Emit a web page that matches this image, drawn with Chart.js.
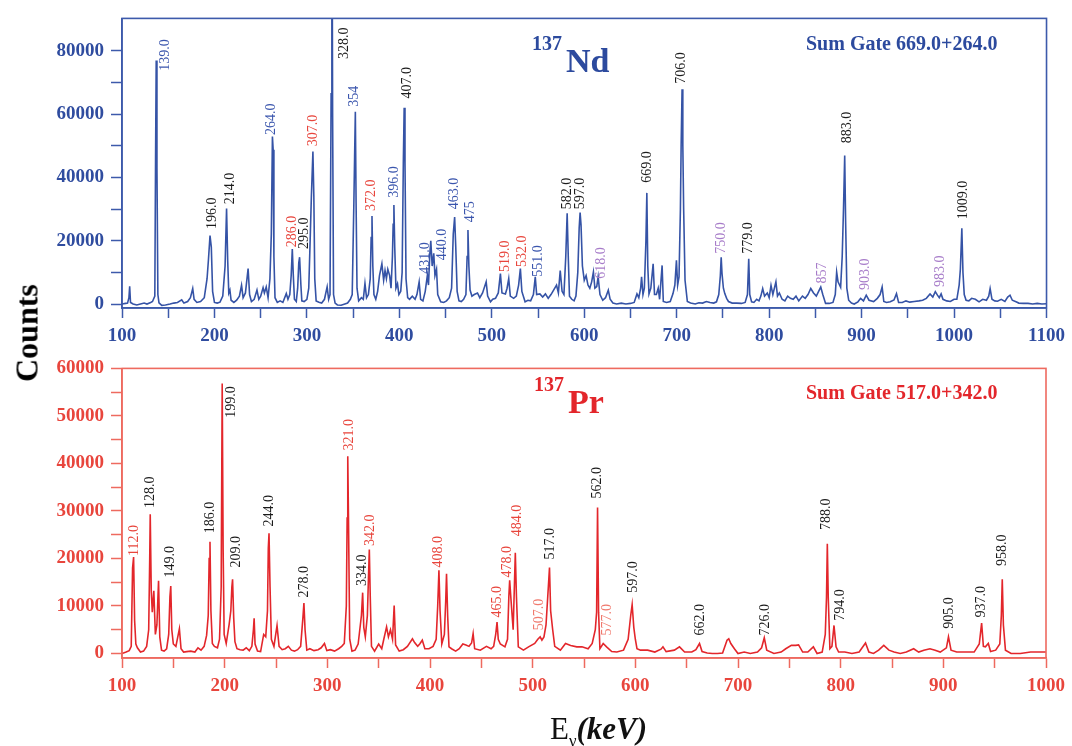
<!DOCTYPE html>
<html>
<head>
<meta charset="utf-8">
<script src="https://cdn.jsdelivr.net/npm/chart.js@4.4.1/dist/chart.umd.min.js"></script>
<style>
  html, body { margin: 0; padding: 0; background: #fff; }
  #page { position: relative; width: 1072px; height: 746px; overflow: hidden; background: #fff; }
  canvas { position: absolute; left: 0; }
  #topChart { top: 0; }
  #botChart { top: 350px; }
  #ylab {
    position: absolute; left: 27px; top: 333px;
    transform: translate(-50%, -50%) rotate(-90deg);
    font: bold 32px "Liberation Serif", serif; color: #000; white-space: nowrap;
  }
  #xlab {
    position: absolute; left: 550px; top: 711px;
    font: 31px "Liberation Serif", serif; color: #111; white-space: nowrap;
  }
  #xlab sub { font-size: 17px; }
  #xlab b { font-style: italic; }
</style>
</head>
<body>
<div id="page">
  <canvas id="topChart" width="1072" height="350"></canvas>
  <canvas id="botChart" width="1072" height="396"></canvas>
  <div id="ylab">Counts</div>
  <div id="xlab">E<sub>γ</sub><b>(keV)</b></div>
</div>
<script>
// ---- 137Nd spectrum (sum gate 669.0+264.0): [E keV, counts]
const ND_SPECTRUM = [
  [100,0],[104,200],[106,300],[107.5,2000],[108.3,5600],[109.2,500],[112,0],[116,-300],[120,0],[124,300],
  [127,0],[131,500],[133,800],[135.5,2500],[136.3,45600],[137,76900],[137.8,43000],[138.8,3000],[140,400],[143,-400],
  [147,-300],[152,0],[156,300],[160,500],[164.6,1300],[167,300],[171,800],[174,2000],[176.5,4900],[178,1500],
  [181,500],[185,800],[189,2000],[192,8000],[193.5,14000],[195.2,21600],[196.6,18000],[198,4000],[200,500],[203,300],
  [206,600],[209,2500],[211.5,12000],[213.1,30200],[214.3,14000],[215.5,3500],[216.7,4400],[218,1200],[221,500],[224,1200],
  [227,2500],[229.3,5900],[231,2000],[233.5,3500],[236.4,11200],[238,3000],[240,800],[243,1500],[246,4400],[248,1500],
  [250,2500],[252.6,5200],[254,3500],[256,5400],[258,2000],[260,8000],[261.5,22000],[262.7,52900],[263.5,48700],[264.3,15000],
  [265.5,2000],[268,500],[271,1000],[274,500],[277.7,3300],[279.5,1500],[281.5,3000],[283,9000],[284.2,17400],[285.3,9000],
  [286.5,1500],[288.5,800],[290,5000],[291.2,13000],[292.1,14800],[293.5,6000],[294.5,1000],[297,800],[300,1500],[302,5000],
  [303.5,20000],[304.8,33600],[306.5,48200],[307.5,34000],[308.5,8000],[310,1000],[313,600],[316,300],[319,1500],[321.9,5400],
  [323.5,1500],[325,3000],[326.2,66400],[327,150000],[327.8,60000],[328.8,3000],[330.5,300],[333,-300],[337,-400],[341,0],
  [344,300],[347,1500],[349,3000],[350.8,32000],[351.6,46600],[352.4,60700],[353.2,32000],[354.2,5000],[356,1000],[359,2000],
  [361,1500],[362.8,6500],[364.5,2000],[366.5,3000],[368.5,8000],[369.5,21000],[370.4,27800],[371.3,12000],[372.5,3000],[374.5,1500],
  [376.5,4000],[378.5,9000],[381.1,12700],[383,7500],[384.5,10600],[386,8000],[387.5,11000],[389.5,9000],[391,5000],[392.5,15000],
  [393.3,25200],[394.1,31300],[395,18000],[396.3,5000],[398,6400],[399.5,3000],[401.5,4000],[403,10000],[404.3,44500],[405.2,62000],
  [406.1,44500],[407.2,8000],[409,2000],[411,1500],[414,2500],[417,1500],[419,3000],[421.4,7000],[423,1500],[425.5,1000],
  [428,4000],[430.3,9100],[431.5,6000],[433,16000],[434,20000],[435.5,12000],[437.2,16000],[438.5,9000],[440.2,11000],[441.5,3000],
  [444.7,700],[448,500],[451,1000],[454,2000],[456.5,5000],[458.3,22100],[459.8,27500],[461,18000],[462.5,4000],[464.5,1000],
  [467,800],[469.5,1500],[472,3000],[473.3,15000],[474.2,23400],[475.2,12000],[476.5,4400],[478.5,2500],[481,3000],[484.5,3500],
  [487,2000],[490,3500],[493.9,7000],[495.5,2500],[498.6,700],[501,1500],[504,1800],[507,3500],[509.3,9600],[511,3500],
  [514.7,3200],[516.5,5000],[518.3,8000],[520,2500],[523.6,1800],[526.5,2500],[529,6000],[530.9,11200],[532.5,4000],[536,700],
  [539,1200],[542,1000],[545,3000],[547,8600],[548.5,3000],[552,3200],[555,2200],[558,3200],[561,1800],[564,3000],
  [567,4500],[570,6000],[572,3500],[574,10600],[576,4000],[578,3000],[580,15000],[581.5,28700],[582.8,14000],[584,2500],
  [586.5,1500],[589,1000],[591,2500],[593,10000],[594.5,24000],[595.5,28900],[596.5,25000],[598,12000],[600,7500],[602,9000],
  [604,6000],[606,5000],[608,7000],[609.9,10100],[611.5,5000],[613.5,5500],[615,8600],[617,3000],[620,1200],[623,2000],
  [626,4400],[628,1500],[631,300],[635,0],[640,300],[645,0],[650,200],[654,500],[657,3200],[659,2000],
  [661,5000],[662,8600],[663.5,3000],[665,5000],[666.7,20000],[667.7,35100],[668.7,12000],[670,3200],[672,5000],[674.5,12700],
  [676,3000],[678,3000],[680,5000],[681.5,1500],[684.2,12200],[685.5,800],[689,500],[693,800],[696,3300],[698,6000],
  [699.7,13800],[701,6000],[702.5,8600],[704,30000],[704.8,50300],[705.8,67800],[706.6,50300],[707.5,30000],[709,7500],[711.5,800],
  [715,300],[720,0],[724,400],[728,300],[732,800],[736,500],[740,300],[743,700],[745.5,3000],[747.2,9000],
  [748.1,14800],[749,9600],[750.5,5000],[752,3300],[754,1800],[756,800],[760,300],[765,300],[770,200],[774,500],
  [776.5,3000],[777.9,14300],[779,3000],[781,700],[783.5,500],[786.5,1500],[789,1000],[791,2500],[793,4900],[795,2500],
  [798,3500],[800,2000],[802,5900],[804,3000],[807.3,7000],[809,2500],[811,3500],[814,1500],[817,1000],[820,2500],
  [823,1800],[826,1500],[829,2500],[832,1000],[836,2500],[839,1800],[842,3000],[845,4900],[848,3500],[851,2500],
  [853.5,4000],[855.8,5400],[858,3000],[861,200],[865,200],[869,500],[871.5,3000],[873,10100],[874.5,7000],[877.3,5300],
  [879,15000],[880.4,30000],[881.7,46900],[882.7,26000],[884,5000],[886,1200],[889,300],[892,0],[896,700],[898.9,1800],
  [902,1000],[905,2800],[908,1200],[913,800],[917,1800],[920,3000],[922.2,5400],[924,800],[927,500],[931,700],
  [935,1300],[937.7,3300],[940,500],[944,500],[948,1000],[952,600],[957,800],[962,1000],[966,1200],[970,1800],
  [974,3200],[977,2200],[979.7,3900],[982,2800],[984,2000],[986,3200],[988,1500],[992,1000],[996,800],[1000,1500],
  [1003,1500],[1005.5,6000],[1006.8,11000],[1008.4,23900],[1009.6,10000],[1011,3000],[1013,1200],[1016,1000],[1019,1800],[1023,1500],
  [1027,700],[1031,1500],[1035,1200],[1037.5,2500],[1039,4900],[1041,1500],[1044,1000],[1047,900],[1051,1500],[1055,800],
  [1058,2200],[1060.5,2800],[1063,1200],[1067,700],[1070,300],[1075,200],[1080,200],[1085,0],[1090,200],[1095,0],[1100,100]
];

// ---- 137Pr spectrum (sum gate 517.0+342.0)
const PR_SPECTRUM = [
  [100,0],[104,300],[107,600],[109,1500],[110.3,18000],[111.3,20300],[112.3,6900],[113.5,2000],[115,1200],[118,300],
  [121,500],[124,1500],[126,5000],[127,20000],[127.5,29300],[128.5,13200],[129.5,8700],[131,13200],[132.5,4000],[134,6000],
  [135.6,15300],[136.8,3500],[138.5,700],[141,500],[143.5,1000],[145.5,4000],[146.7,12000],[147.5,14200],[148.5,5000],[150,2000],
  [152.5,1500],[155.9,5200],[157.5,1000],[160,300],[163,400],[167,500],[171,300],[174,1200],[177,700],[180,1500],
  [182.4,3800],[184,8000],[184.9,20000],[185.7,23500],[186.6,9000],[188,2100],[190,1500],[193,1200],[195,3000],[196.6,13900],
  [197.6,56800],[198.5,22000],[199.5,4000],[201.5,2100],[204.4,6200],[206,9000],[207,14000],[207.7,15600],[208.8,7500],[210,2500],
  [212,1000],[215,800],[218,700],[221,1200],[224,600],[226.5,1500],[228,5000],[228.7,7400],[229.6,2000],[232,500],
  [235,400],[238,4000],[240,3500],[241.7,9000],[242.5,22200],[243.2,25300],[244.2,14000],[245.5,3000],[248,1500],[251,5900],
  [253,1500],[256,800],[259,1000],[262,1500],[265,700],[268,500],[271,800],[274,1500],[276.2,7500],[277.2,10600],
  [278.3,5000],[280,700],[283,1000],[287,600],[291,800],[294,1200],[297.2,2100],[299.5,600],[303,800],[307,500],
  [311,1000],[314,1500],[316.5,2100],[318.5,10000],[319.3,28500],[319.9,41500],[320.6,28500],[321.8,3000],[324,500],[327,700],
  [330,2000],[331.2,4200],[333.2,8000],[334.4,12800],[335.5,5500],[337,3500],[339,8000],[340.2,17000],[340.9,21900],[341.8,12000],
  [343,1500],[346,500],[350,2000],[353,1000],[355,3000],[357.7,5600],[359.5,3500],[361.5,5000],[363.5,3000],[365.1,10100],
  [366.5,1800],[370,500],[374,800],[378,1500],[382.9,3100],[385,2300],[388,1500],[390,2000],[392.5,2800],[395,1000],
  [399,1000],[403,1500],[406,3000],[407.5,10000],[408.7,17500],[409.8,9000],[411.5,2000],[414,4000],[415.3,11000],[416.1,16800],
  [417.2,8000],[418.5,1400],[421,1000],[425,500],[428.5,1000],[432,2000],[435,1800],[438,1500],[440.5,2200],[442,4200],
  [443.5,1000],[449,700],[455,1500],[459.5,1000],[462,1500],[464,4000],[465.3,6600],[466.5,3000],[468.5,2000],[473,1400],
  [475.5,3000],[476.8,12000],[477.6,15400],[479,11000],[481,5000],[482.3,15000],[483.1,21200],[484.2,12000],[486,1400],[491,700],
  [496,1400],[502,2100],[505,3000],[507.3,3500],[509,2800],[511,3500],[513,6000],[514.7,12000],[516.4,18100],[517.5,9000],
  [519.5,5000],[521.5,1500],[527,700],[532,2100],[537,1700],[543,1400],[548,1400],[554,1000],[558,2100],[561,5000],
  [562.3,8700],[563.2,30700],[564.2,8700],[565.5,1000],[568.7,2100],[572,1400],[577,400],[582,300],[588.5,700],[593,3000],
  [595.5,8000],[596.9,10300],[598.5,5500],[600,3000],[601.6,1000],[605,700],[612,700],[619,300],[625,900],[626.9,1400],
  [630,400],[638,700],[643,1400],[648,300],[655,300],[659,800],[662.5,2100],[665,400],[670,100],[675,0],
  [680,0],[685,100],[689.3,2800],[691,3100],[693,2100],[696.5,1000],[700,0],[706,300],[712,0],[719,300],
  [723,1200],[725.6,3300],[728,700],[735,0],[742,300],[746.5,1000],[752,1700],[756.3,1700],[759,1800],[763,300],
  [768,300],[773.4,1400],[777,0],[782,300],[785,4000],[786.2,11800],[787,23100],[787.9,11800],[789.5,1000],[791.5,1500],
  [793.5,5900],[795.5,1400],[798,300],[804,300],[811,0],[818,300],[824.2,2200],[827.5,300],[832,0],[837,700],
  [842,1700],[847,700],[852,300],[858,0],[864,300],[871.1,1000],[876,300],[881,700],[887,1000],[892,700],
  [897,300],[903,1200],[905,3500],[907.5,700],[913,300],[920,300],[930,300],[935,2000],[937.3,6400],[939,1500],
  [941,1400],[943.8,2100],[946,400],[951,700],[955,2000],[956.5,8000],[957.4,15600],[958.5,6000],[960.5,700],[966,0],
  [975,0],[985,300],[995,300],[1000,300]
];

// peak labels: text, anchor energy, anchor counts (foot of the rotated text), colour key
const ND_LABELS = ['139.0','196.0','214.0','264.0','286.0','295.0','307.0','328.0','354','372.0','396.0','407.0',
  '431.0','440.0','463.0','475','519.0','532.0','551.0','582.0','597.0','618.0','669.0','706.0','750.0','779.0',
  '857','883.0','903.0','983.0','1009.0'];
const ND_LABEL_E = [146.7,197.7,216.7,261.6,284.2,297.5,306.5,340.6,351.3,369.3,394.4,408.8,
  428.6,446.5,459.1,476.3,514.7,532.7,549.9,581.5,595.5,618.1,668.4,705,748.1,777.9,
  857.6,884.5,904.3,985.1,1010.2];
const ND_LABEL_Y = [73700,23700,31500,53400,17900,17400,49800,77400,62300,29400,33600,64900,
  9600,13800,29900,25800,10100,11700,8600,29900,29900,8000,38300,69600,15900,15900,
  6500,50800,4400,5400,26800];
const ND_LABEL_C = ['b','k','k','b','r','k','r','k','b','r','b','k',
  'b','b','b','b','r','r','b','k','k','p','k','k','p','k',
  'p','k','p','p','k'];

const PR_LABELS = ['112.0','128.0','149.0','186.0','199.0','209.0','244.0','278.0','321.0','334.0','342.0',
  '408.0','465.0','478.0','484.0','507.0','517.0','562.0','577.0','597.0','662.0',
  '726.0','788.0','794.0','905.0','937.0','958.0'];
const PR_LABEL_E = [112.3,127.5,147.5,185.7,206.7,210.9,243.2,277.8,321.5,333.8,341.5,
  408.1,465.3,475.6,484.7,506.3,517,563.2,572.9,597.8,663.5,
  726.2,786.3,799.3,905.6,937.3,957.4];
const PR_LABEL_Y = [20500,30600,16000,25300,49600,18100,26700,11800,42700,14200,22600,
  18100,7600,16000,24700,4900,19800,32600,3800,12800,3800,
  3800,26000,6900,5200,7600,18400];
const PR_LABEL_C = ['r','k','k','k','k','k','k','k','r','k','r',
  'r','r','r','r','l','k','k','l','k','k',
  'k','k','k','k','k','k'];

// axis ticks
const ND_X_TICKS = [100,150,200,250,300,350,400,450,500,550,600,650,700,750,800,850,900,950,1000,1050,1100];
const ND_Y_TICKS = [0,10000,20000,30000,40000,50000,60000,70000,80000];
const PR_X_TICKS = [100,150,200,250,300,350,400,450,500,550,600,650,700,750,800,850,900,950,1000];
const PR_Y_TICKS = [0,5000,10000,15000,20000,25000,30000,35000,40000,45000,50000,55000,60000];

const LABEL_COLORS = { k: '#1b1b1b', b: '#3a55ad', r: '#e8453c', p: '#a77cc9', l: '#f07a6e' };
const BLUE = '#3553a6';
const RED = '#e3262b';

function framePlugin(color){
  return {
    id: 'frame',
    afterDraw(chart){
      const a = chart.chartArea, ctx = chart.ctx;
      ctx.save();
      ctx.strokeStyle = color; ctx.lineWidth = 1.6;
      ctx.strokeRect(a.left, a.top, a.right - a.left, a.bottom - a.top);
      ctx.restore();
    }
  };
}

function peakLabelPlugin(texts, es, ys, cs){
  return {
    id: 'peakLabels',
    afterDatasetsDraw(chart){
      const ctx = chart.ctx, sx = chart.scales.x, sy = chart.scales.y;
      ctx.save();
      ctx.font = '14px "Liberation Serif", serif';
      ctx.textAlign = 'left';
      ctx.textBaseline = 'middle';
      texts.forEach((t, i) => {
        ctx.save();
        ctx.translate(sx.getPixelForValue(es[i]), sy.getPixelForValue(ys[i]));
        ctx.rotate(-Math.PI / 2);
        ctx.fillStyle = LABEL_COLORS[cs[i]];
        ctx.fillText(t, 0, 0);
        ctx.restore();
      });
      ctx.restore();
    }
  };
}

function titlePlugin(color, nucleus, gate, x0, yBase){
  return {
    id: 'titles',
    afterDraw(chart){
      const ctx = chart.ctx;
      ctx.save();
      ctx.fillStyle = color;
      ctx.textBaseline = 'alphabetic';
      ctx.textAlign = 'left';
      ctx.font = 'bold 20px "Liberation Serif", serif';
      ctx.fillText('137', x0, yBase - 22);
      ctx.font = 'bold 34px "Liberation Serif", serif';
      ctx.fillText(nucleus, x0 + 34, yBase);
      ctx.font = 'bold 20px "Liberation Serif", serif';
      ctx.fillText(gate, 806, yBase - (nucleus === 'Nd' ? 22 : 14));
      ctx.restore();
    }
  };
}

function makeChart(id, spectrum, color, frameColor, tickColor, xTicks, yTicks, xRange, yRange, yStep, pad, xAxisH, labels, title){
  return new Chart(document.getElementById(id), {
    type: 'line',
    data: {
      datasets: [{
        data: spectrum.map(p => ({ x: p[0], y: p[1] })),
        borderColor: color, borderWidth: 1.6, pointRadius: 0, tension: 0, fill: false
      }]
    },
    options: {
      responsive: false, animation: false,
      layout: { padding: { top: pad, right: 22, left: 0, bottom: 0 } },
      plugins: { legend: { display: false }, tooltip: { enabled: false } },
      scales: {
        x: {
          type: 'linear', min: xRange[0], max: xRange[1],
          afterBuildTicks: s => { s.ticks = xTicks.map(v => ({ value: v })); },
          afterFit: s => { s.height = xAxisH; },
          ticks: {
            autoSkip: false, maxRotation: 0, padding: 7, color: tickColor,
            font: { family: '"Liberation Serif", serif', weight: 'bold', size: 19 },
            callback: v => (v % 100 === 0 ? String(v) : '')
          },
          grid: { drawOnChartArea: false, drawTicks: true, tickLength: 10, tickColor: frameColor, tickWidth: 1.5 },
          border: { color: frameColor, width: 1.6 }
        },
        y: {
          min: yRange[0], max: yRange[1],
          afterBuildTicks: s => { s.ticks = yTicks.map(v => ({ value: v })); },
          afterFit: s => { s.width = 122; },
          ticks: {
            autoSkip: false, padding: 7, color: tickColor,
            font: { family: '"Liberation Serif", serif', weight: 'bold', size: 19 },
            callback: v => (v % yStep === 0 ? String(v) : '')
          },
          grid: { drawOnChartArea: false, drawTicks: true, tickLength: 11, tickColor: frameColor, tickWidth: 1.5 },
          border: { color: frameColor, width: 1.6 }
        }
      }
    },
    plugins: [framePlugin(frameColor), peakLabelPlugin(...labels), title]
  });
}

makeChart('topChart', ND_SPECTRUM, BLUE, '#3d5aab', '#2f4c9f', ND_X_TICKS, ND_Y_TICKS,
  [100, 1100], [-1250, 90200], 20000, 16, 42,
  [ND_LABELS, ND_LABEL_E, ND_LABEL_Y, ND_LABEL_C],
  titlePlugin('#2c4a9e', 'Nd', 'Sum Gate 669.0+264.0', 532, 72));

makeChart('botChart', PR_SPECTRUM, RED, '#ee6a5f', '#e8453c', PR_X_TICKS, PR_Y_TICKS,
  [100, 1000], [-950, 60000], 10000, 16, 88,
  [PR_LABELS, PR_LABEL_E, PR_LABEL_Y, PR_LABEL_C],
  titlePlugin('#e3262b', 'Pr', 'Sum Gate 517.0+342.0', 534, 63));
</script>
</body>
</html>
